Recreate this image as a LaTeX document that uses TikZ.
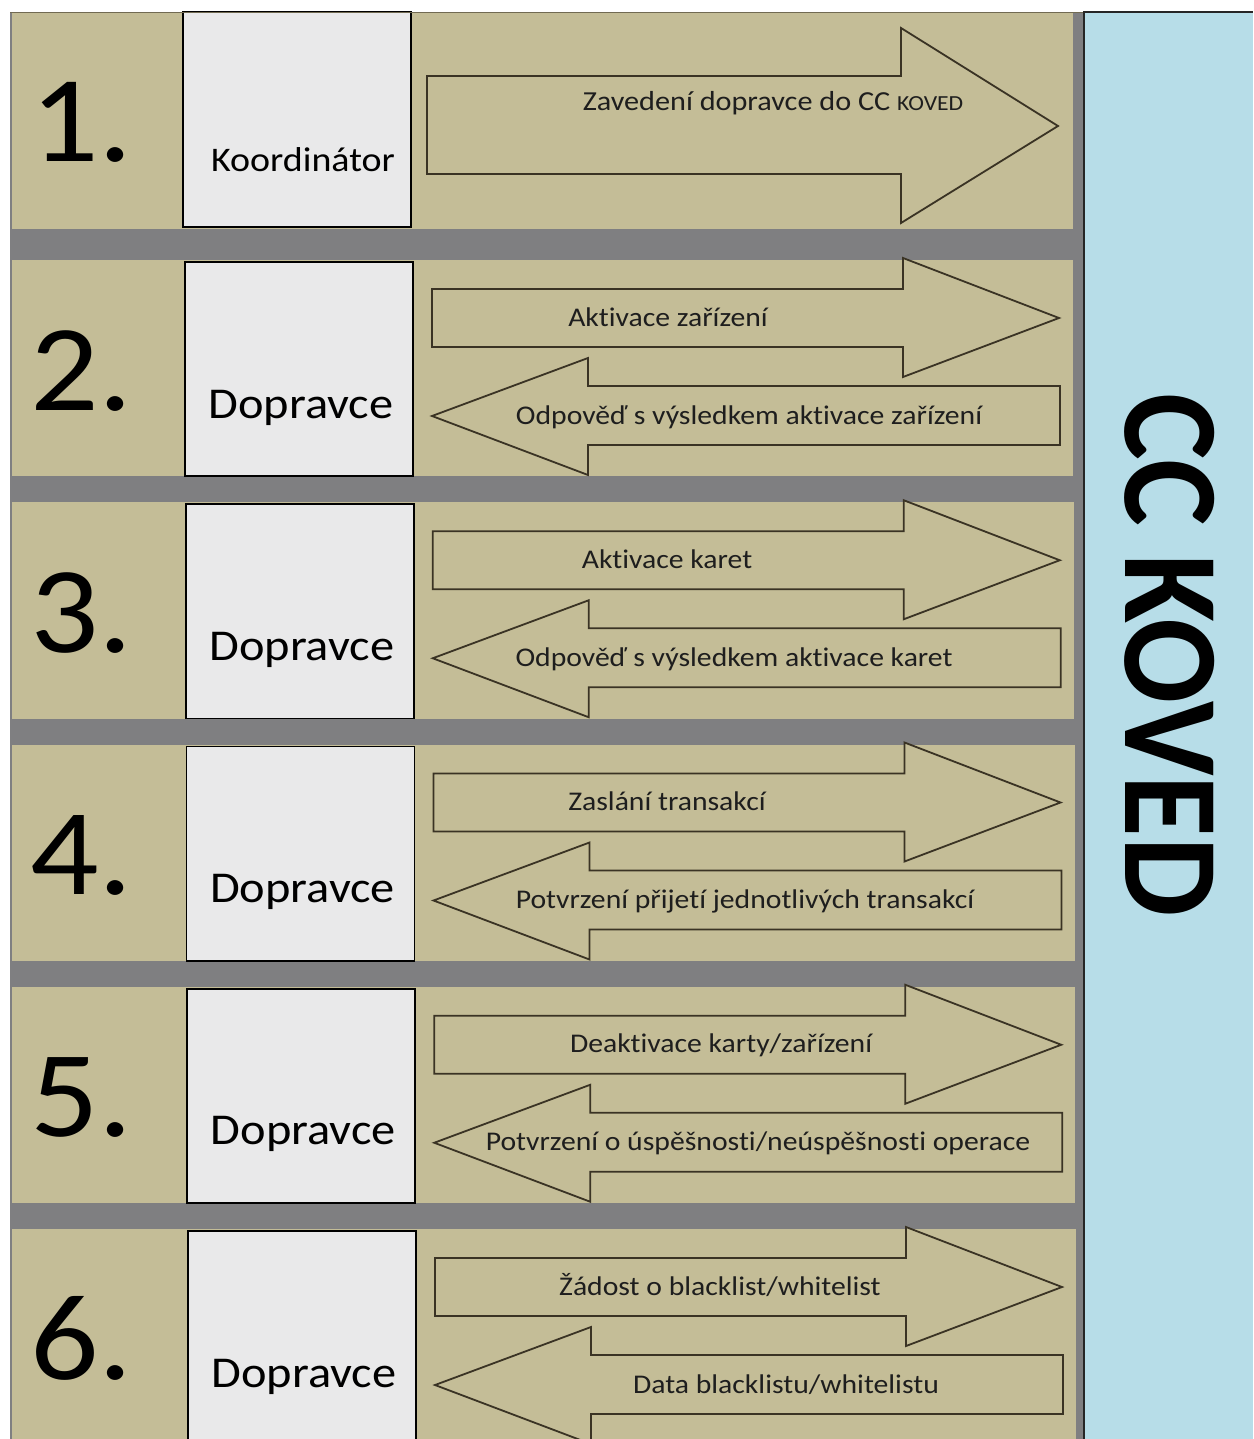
\documentclass[tikz,border=0pt]{standalone}
\usepackage{fontspec}
\usepackage{graphicx}
\setmainfont{Carlito}
\newfontfamily\wfont[FakeStretch=1.1,Ligatures={NoCommon}]{Carlito}
\usetikzlibrary{fit}
\definecolor{tanc}{HTML}{C4BD97}
\definecolor{grayc}{HTML}{7F7F81}
\definecolor{bluec}{HTML}{B7DDE8}
\definecolor{boxc}{HTML}{E9E9EA}
\definecolor{arrline}{HTML}{3A3324}
\definecolor{txtc}{HTML}{1E1E1E}
\tikzset{
  arr/.style={draw=arrline, line width=1.8pt, fill=tanc, line join=miter},
  actor/.style={draw=black, line width=1.8pt, fill=boxc, inner sep=0pt},
  numtxt/.style={anchor=base west, inner sep=0pt, text=black, font={\wfont\fontsize{123}{123}\selectfont}},
  actortxt/.style={anchor=base, inner sep=0pt, text=black, font={\wfont\fontsize{44}{44}\selectfont}},
  lbl/.style={anchor=base, inner sep=0pt, text=txtc, font={\wfont\fontsize{27}{27}\selectfont}},
}
% #1 idx, #2 top, #3 bottom, #4 dx, #5 right text, #6 right x, #7 left text, #8 left x
\newcommand\steprow[8]{%
  \fill[tanc] (12,#2) rectangle (1073+#4,#3);
  \node[numtxt] (num#1) at (30,#2+150) {#1.};
  \node[actor, fit={(185+#4,#2+2) (413+#4,#3)}] (box#1) {};
  \node[actortxt] (who#1) at (301+#4,#2+158) {Dopravce};
  \draw[arr] (432+#4,#2+29) -- (903+#4,#2+29) -- (903+#4,#2-2) -- (1059+#4,#2+58)
     -- (903+#4,#2+117) -- (903+#4,#2+87) -- (432+#4,#2+87) -- cycle;
  \draw[arr] (432+#4,#2+156) -- (588+#4,#2+98) -- (588+#4,#2+126) -- (1060+#4,#2+126)
     -- (1060+#4,#2+185) -- (588+#4,#2+185) -- (588+#4,#2+215) -- cycle;
  \node[lbl] (rl#1) at (#6,#2+66) {#5};
  \node[lbl] (ll#1) at (#8,#2+164) {#7};
}
\begin{document}
\begin{tikzpicture}[x=1pt,y=-1pt]
\useasboundingbox (0,0) rectangle (1253,1439);
\clip (0,0) rectangle (1253,1439);
\fill[white] (0,0) rectangle (1253,1439);
% gray frame
\fill[grayc] (10,12) rectangle (1086,1445);
% row 1
\fill[tanc] (12,12) rectangle (1073,229);
\node[numtxt] (num1) at (30,162) {1.};
\node[actor, fit={(183,12) (411,227)}] (box1) {};
\node[actortxt, font={\wfont\fontsize{34.5}{34.5}\selectfont}] (who1) at (303,172) {Koordinátor};
\draw[arr] (427,76) -- (901,76) -- (901,28) -- (1058,126) -- (901,223) -- (901,174) -- (427,174) -- cycle;
\node[lbl, font={\wfont\fontsize{27.5}{27.5}\selectfont}] (rl1) at (773,111) {Zavedení dopravce do CC {\fontsize{21.5}{21.5}\selectfont KOVED}};
% rows 2-6
\steprow{2}{260}{476}{0}{Aktivace zařízení}{668}{Odpověď s výsledkem aktivace zařízení}{749}
\steprow{3}{502.25}{718.5}{0.75}{Aktivace karet}{667}{Odpověď s výsledkem aktivace karet}{734}
\steprow{4}{744.5}{961}{1.5}{Zaslání transakcí}{667}{Potvrzení přijetí jednotlivých transakcí}{745}
\steprow{5}{986.75}{1203}{2.25}{Deaktivace karty/zařízení}{721}{Potvrzení o úspěšnosti/neúspěšnosti operace}{758}
\steprow{6}{1229}{1450}{3}{Žádost o blacklist/whitelist}{720}{Data blacklistu/whitelistu}{786}
% top edge line
\draw[line width=1pt, color=arrline!60!tanc] (10,12.5) -- (1085,12.5);
% CC KOVED panel
\fill[bluec] (1085,12) rectangle (1253,1445);
\draw[line width=2pt, color=black!85] (1084,1445) -- (1084,12) -- (1253,12);
\node[rotate=-90, inner sep=0pt, text=black, font={\fontsize{126}{126}\selectfont\bfseries}] (cc) at (1170,655) {\scalebox{1}[1.08]{CC KOVED}};
\end{tikzpicture}
\end{document}
